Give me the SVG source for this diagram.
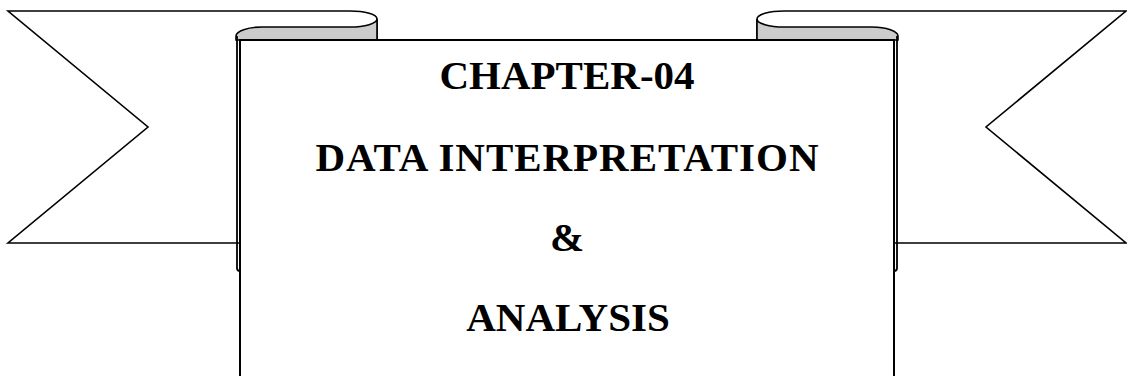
<svg xmlns="http://www.w3.org/2000/svg" width="1127" height="376" viewBox="0 0 1127 376">
  <style>
    .edge { stroke: #000; stroke-width: 1.6; stroke-linejoin: miter; }
    .flag { fill: #fff; }
    .fold { fill: #cccccc; }
    .panel { fill: #fff; stroke: #000; stroke-width: 2; }
    .rim { fill: none; stroke: #000; stroke-width: 1.8; }
    .title { font-family: "Liberation Serif", "Times New Roman", serif; font-weight: bold; font-size: 41px; fill: #000; text-anchor: middle; }
  </style>
  <defs>
    <!-- one half of the ribbon: swallow-tail flag plus its rolled fold -->
    <g id="ribbon-half">
      <path class="flag edge" d="M8,11 H350 A27,8 0 0 1 377,19 V243 H8 L148,127 Z"/>
      <path class="fold edge" d="M236,40 V36 A26,9 0 0 1 262,27 H350 A27,8 0 0 0 377,19 V40 Z"/>
      <path class="rim" d="M237,36 V268 Q237,271 240,271"/>
    </g>
  </defs>

  <g id="ribbon-left">
    <use href="#ribbon-half"/>
  </g>
  <g id="ribbon-right">
    <use href="#ribbon-half" transform="translate(1134,0) scale(-1,1)"/>
  </g>

  <g id="banner">
    <rect class="panel" x="240" y="40" width="654" height="360"/>
    <text class="title" x="567" y="89">CHAPTER-04</text>
    <text class="title" x="567" y="171" textLength="503" lengthAdjust="spacing">DATA INTERPRETATION</text>
    <text class="title" x="567" y="251">&amp;</text>
    <text class="title" x="568" y="331">ANALYSIS</text>
  </g>
</svg>
